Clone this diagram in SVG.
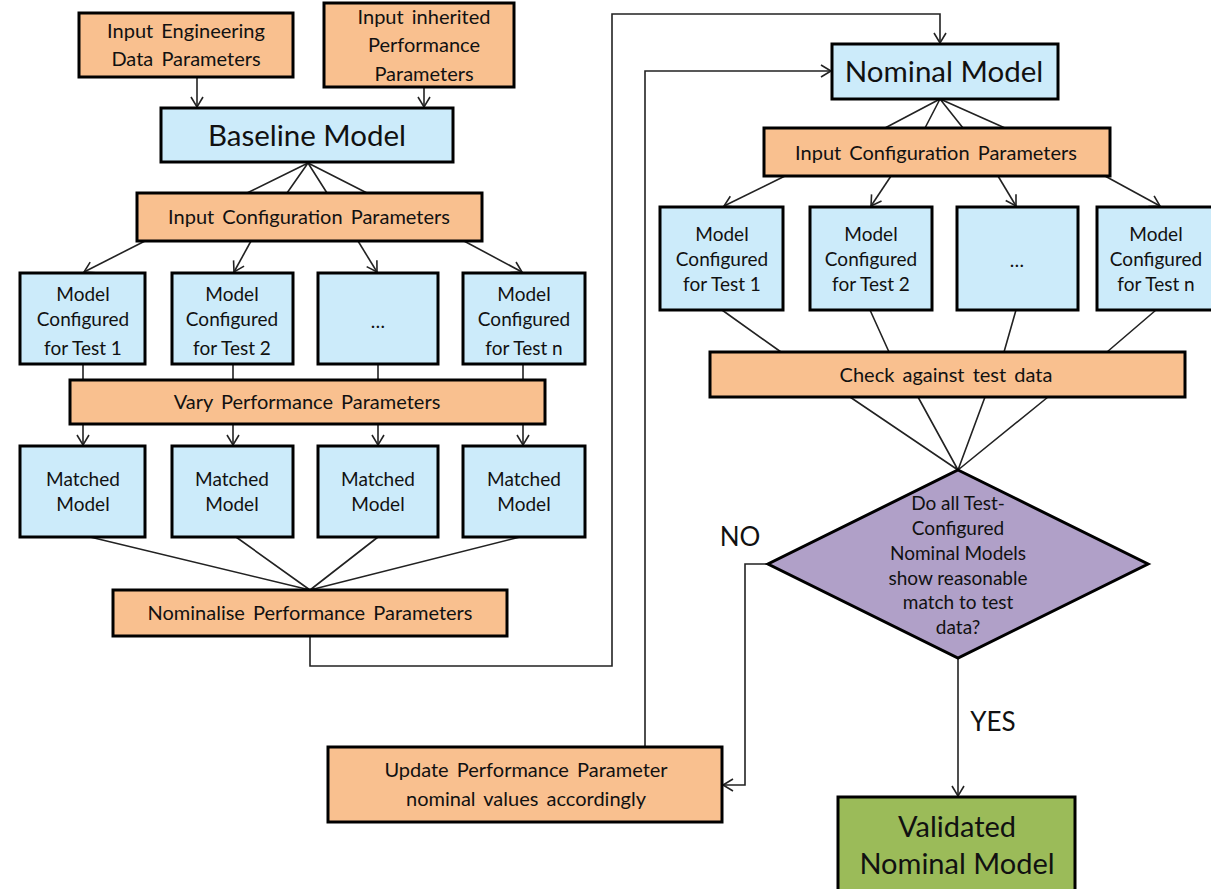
<svg xmlns="http://www.w3.org/2000/svg" width="1211" height="889" viewBox="0 0 1211 889">
<style>
.box{stroke:#000;stroke-width:3}
.o{fill:#F9C08F}
.b{fill:#CCEBFA}
.p{fill:#B0A0C8}
.g{fill:#9BBB59}
text{font-family:Lato,"Open Sans","Liberation Sans",sans-serif;fill:#111;text-anchor:middle}
.t18{font-size:19px}
.t19{font-size:20px;word-spacing:3px}
.t28{font-size:29.5px}
.c{stroke:#222;stroke-width:1.6;fill:none}
.a{marker-end:url(#arr)}
</style>
<defs>
<marker id="arr" markerUnits="userSpaceOnUse" markerWidth="14" markerHeight="14" refX="11" refY="7" orient="auto">
<path d="M1,1 L11,7 L1,13" fill="none" stroke="#222" stroke-width="1.6"/>
</marker>
</defs>
<g id="connectors">
<line class="c a" x1="197" y1="77" x2="197" y2="107"/>
<line class="c a" x1="424" y1="87" x2="424" y2="107"/>
<path class="c" d="M308,163 L247,193 M308,163 L287,193 M308,163 L327,193 M308,163 L367,193"/>
<line class="c a" x1="145" y1="241" x2="84" y2="272"/>
<line class="c a" x1="251" y1="241" x2="234" y2="272"/>
<line class="c a" x1="358" y1="241" x2="377" y2="272"/>
<line class="c a" x1="464" y1="241" x2="522" y2="272"/>
<path class="c" d="M83,364 V380 M233,364 V380 M378,364 V380 M523,364 V380"/>
<line class="c a" x1="83" y1="424" x2="83" y2="445"/>
<line class="c a" x1="233" y1="424" x2="233" y2="445"/>
<line class="c a" x1="378" y1="424" x2="378" y2="445"/>
<line class="c a" x1="523" y1="424" x2="523" y2="445"/>
<path class="c" d="M90,537 L310,590 M236,537 L310,590 M378,537 L310,590 M520,537 L310,590"/>
<path class="c a" d="M310,636 V666 H612 V14 H940 V43"/>
<path class="c a" d="M645,747 V71 H831"/>
<path class="c" d="M940,99 L885,128 M940,99 L925,128 M940,99 L963,128 M940,99 L1005,128"/>
<line class="c a" x1="785" y1="176" x2="724" y2="206"/>
<line class="c a" x1="891" y1="176" x2="871" y2="206"/>
<line class="c a" x1="998" y1="176" x2="1016" y2="206"/>
<line class="c a" x1="1105" y1="176" x2="1160" y2="206"/>
<path class="c" d="M722,310 L781,352 M870,310 L889,352 M1016,310 L1004,352 M1156,310 L1107,352"/>
<path class="c" d="M850,397 L958,470 M918,397 L958,470 M985,397 L958,470 M1048,397 L958,470"/>
<path class="c a" d="M768,564 H745 V785 H723"/>
<line class="c a" x1="958" y1="658" x2="958" y2="796"/>
</g>
<g id="n_eng"><rect class="box o" x="79" y="13" width="214" height="64"/><text class="t19" x="186" y="38">Input Engineering</text><text class="t19" x="186" y="66">Data Parameters</text></g>
<g id="n_inh"><rect class="box o" x="324" y="3" width="190" height="84"/><text class="t19" x="424" y="24">Input inherited</text><text class="t19" x="424" y="52">Performance</text><text class="t19" x="424" y="81">Parameters</text></g>
<g id="n_base"><rect class="box b" x="161" y="108" width="292" height="54"/><text class="t28" x="307" y="146">Baseline Model</text></g>
<g id="n_cfgL"><rect class="box o" x="137" y="193" width="345" height="48"/><text class="t19" x="309" y="224">Input Configuration Parameters</text></g>
<g id="n_mc1"><rect class="box b" x="20" y="273" width="125" height="91"/><text class="t18" x="83" y="301">Model</text><text class="t18" x="83" y="326">Configured</text><text class="t18" x="83" y="355">for Test 1</text></g>
<g id="n_mc2"><rect class="box b" x="172" y="273" width="121" height="91"/><text class="t18" x="232" y="301">Model</text><text class="t18" x="232" y="326">Configured</text><text class="t18" x="232" y="355">for Test 2</text></g>
<g id="n_mc3"><rect class="box b" x="318" y="273" width="120" height="91"/><text class="t18" x="378" y="328">…</text></g>
<g id="n_mc4"><rect class="box b" x="463" y="273" width="122" height="91"/><text class="t18" x="524" y="301">Model</text><text class="t18" x="524" y="326">Configured</text><text class="t18" x="524" y="355">for Test n</text></g>
<g id="n_vary"><rect class="box o" x="70" y="380" width="475" height="44"/><text class="t19" x="307" y="409">Vary Performance Parameters</text></g>
<g id="n_mm1"><rect class="box b" x="20" y="446" width="125" height="91"/><text class="t18" x="83" y="486">Matched</text><text class="t18" x="83" y="511">Model</text></g>
<g id="n_mm2"><rect class="box b" x="172" y="446" width="121" height="91"/><text class="t18" x="232" y="486">Matched</text><text class="t18" x="232" y="511">Model</text></g>
<g id="n_mm3"><rect class="box b" x="318" y="446" width="120" height="91"/><text class="t18" x="378" y="486">Matched</text><text class="t18" x="378" y="511">Model</text></g>
<g id="n_mm4"><rect class="box b" x="463" y="446" width="122" height="91"/><text class="t18" x="524" y="486">Matched</text><text class="t18" x="524" y="511">Model</text></g>
<g id="n_nomz"><rect class="box o" x="113" y="590" width="394" height="46"/><text class="t19" x="310" y="620">Nominalise Performance Parameters</text></g>
<g id="n_nom"><rect class="box b" x="832" y="44" width="226" height="55"/><text class="t28" x="944" y="82">Nominal Model</text></g>
<g id="n_cfgR"><rect class="box o" x="764" y="128" width="346" height="48"/><text class="t19" x="936" y="160">Input Configuration Parameters</text></g>
<g id="n_r1"><rect class="box b" x="660" y="207" width="123" height="103"/><text class="t18" x="722" y="241">Model</text><text class="t18" x="722" y="266">Configured</text><text class="t18" x="722" y="291">for Test 1</text></g>
<g id="n_r2"><rect class="box b" x="810" y="207" width="122" height="103"/><text class="t18" x="871" y="241">Model</text><text class="t18" x="871" y="266">Configured</text><text class="t18" x="871" y="291">for Test 2</text></g>
<g id="n_r3"><rect class="box b" x="957" y="207" width="121" height="103"/><text class="t18" x="1017" y="267">…</text></g>
<g id="n_r4"><rect class="box b" x="1097" y="207" width="122" height="103"/><text class="t18" x="1156" y="241">Model</text><text class="t18" x="1156" y="266">Configured</text><text class="t18" x="1156" y="291">for Test n</text></g>
<g id="n_check"><rect class="box o" x="710" y="352" width="475" height="45"/><text class="t19" x="946" y="382">Check against test data</text></g>
<g id="n_dec"><polygon class="box p" points="958,470 1148,564 958,658 768,564"/>
<text class="t18" x="958" y="510">Do all Test-</text><text class="t18" x="958" y="535">Configured</text><text class="t18" x="958" y="560">Nominal Models</text><text class="t18" x="958" y="585">show reasonable</text><text class="t18" x="958" y="609">match to test</text><text class="t18" x="958" y="634">data?</text></g>
<text x="740" y="546" style="font-size:26px">NO</text>
<text x="993" y="731" style="font-size:26px">YES</text>
<g id="n_upd"><rect class="box o" x="328" y="747" width="394" height="75"/><text class="t19" x="526" y="777">Update Performance Parameter</text><text class="t19" x="526" y="806">nominal values accordingly</text></g>
<g id="n_val"><rect class="box g" x="838" y="797" width="237" height="100"/><text x="957" y="837" style="font-size:29px">Validated</text><text x="957" y="874" style="font-size:29px">Nominal Model</text></g>
</svg>
